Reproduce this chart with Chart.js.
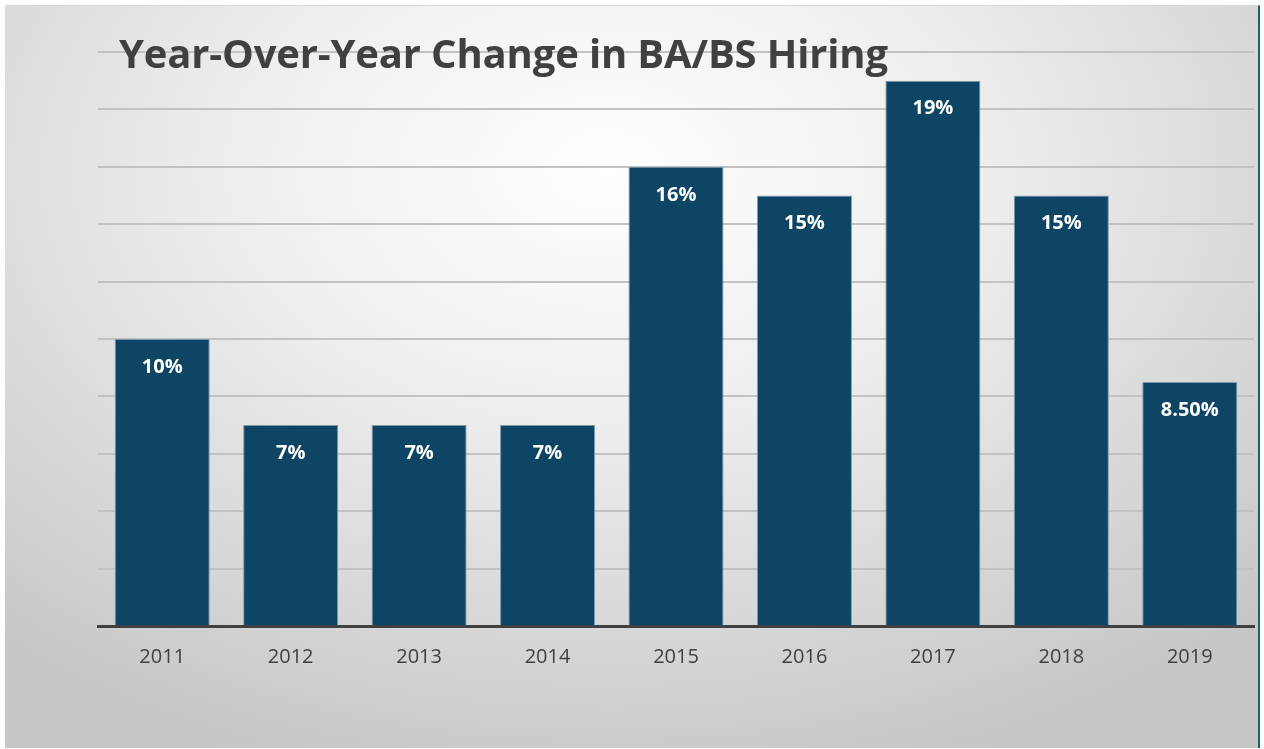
<!DOCTYPE html>
<html>
<head>
<meta charset="utf-8">
<script src="https://cdn.jsdelivr.net/npm/chart.js@4"></script>
<style>
  html, body { margin: 0; padding: 0; background: #ffffff; width: 1264px; height: 749px; overflow: hidden; }
  #slide {
    position: absolute; left: 5px; top: 5px; width: 1253px; height: 742px;
    background: radial-gradient(ellipse 75% 85% at 48% 22%, #ffffff 0%, #eeeeee 40%, #d6d6d6 75%, #c6c6c6 100%);
    border-right: 2px solid #1f5a80;
    border-top: 1px solid #d8d8d8;
  }
  #wrap { position: absolute; left: 0; top: 0; width: 1264px; height: 749px; }
  #title {
    position: absolute; left: 119px; top: 33px; margin: 0;
    font-family: "Open Sans", sans-serif; font-weight: 700; font-size: 40px;
    color: #404040; white-space: nowrap; letter-spacing: -0.15px; line-height: 1;
  }
</style>
</head>
<body>
<div id="slide"></div>
<div id="wrap"><canvas id="c" width="1264" height="749"></canvas></div>
<div id="title">Year-Over-Year Change in BA/BS Hiring</div>
<script>
const categories = ["2011", "2012", "2013", "2014", "2015", "2016", "2017", "2018", "2019"];
const hiringChange = [10, 7, 7, 7, 16, 15, 19, 15, 8.5];
const valueLabels = ["10%", "7%", "7%", "7%", "16%", "15%", "19%", "15%", "8.50%"];

const barLabels = {
  id: 'barLabels',
  afterDatasetsDraw(chart) {
    const ctx = chart.ctx;
    const meta = chart.getDatasetMeta(0);
    ctx.save();
    ctx.fillStyle = '#ffffff';
    ctx.font = '700 20px "Open Sans", sans-serif';
    ctx.textAlign = 'center';
    ctx.textBaseline = 'middle';
    meta.data.forEach((bar, i) => {
      ctx.fillText(valueLabels[i], bar.x, bar.y + 28);
    });
    ctx.restore();
  }
};

new Chart(document.getElementById('c'), {
  type: 'bar',
  data: {
    labels: categories,
    datasets: [{
      data: hiringChange,
      backgroundColor: '#0e4565',
      borderColor: '#7d9bb0',
      borderWidth: 1,
      categoryPercentage: 1,
      barPercentage: 0.74
    }]
  },
  options: {
    responsive: false,
    animation: false,
    layout: { padding: { left: 98, right: 10, top: 52, bottom: 60 } },
    plugins: { legend: { display: false }, tooltip: { enabled: false }, title: { display: false } },
    scales: {
      x: {
        grid: { display: false, drawTicks: false },
        border: { display: true, color: '#404040', width: 3 },
        ticks: { color: '#404040', font: { family: '"Open Sans", sans-serif', size: 20 }, padding: 19 },
        afterFit(s) { s.height = 63; }
      },
      y: {
        min: 0, max: 20,
        ticks: { display: false, stepSize: 2 },
        grid: { color: '#c2c2c2', lineWidth: 2, drawTicks: false },
        border: { display: false },
        afterFit(s) { s.width = 0; }
      }
    }
  },
  plugins: [barLabels]
});
</script>
</body>
</html>
